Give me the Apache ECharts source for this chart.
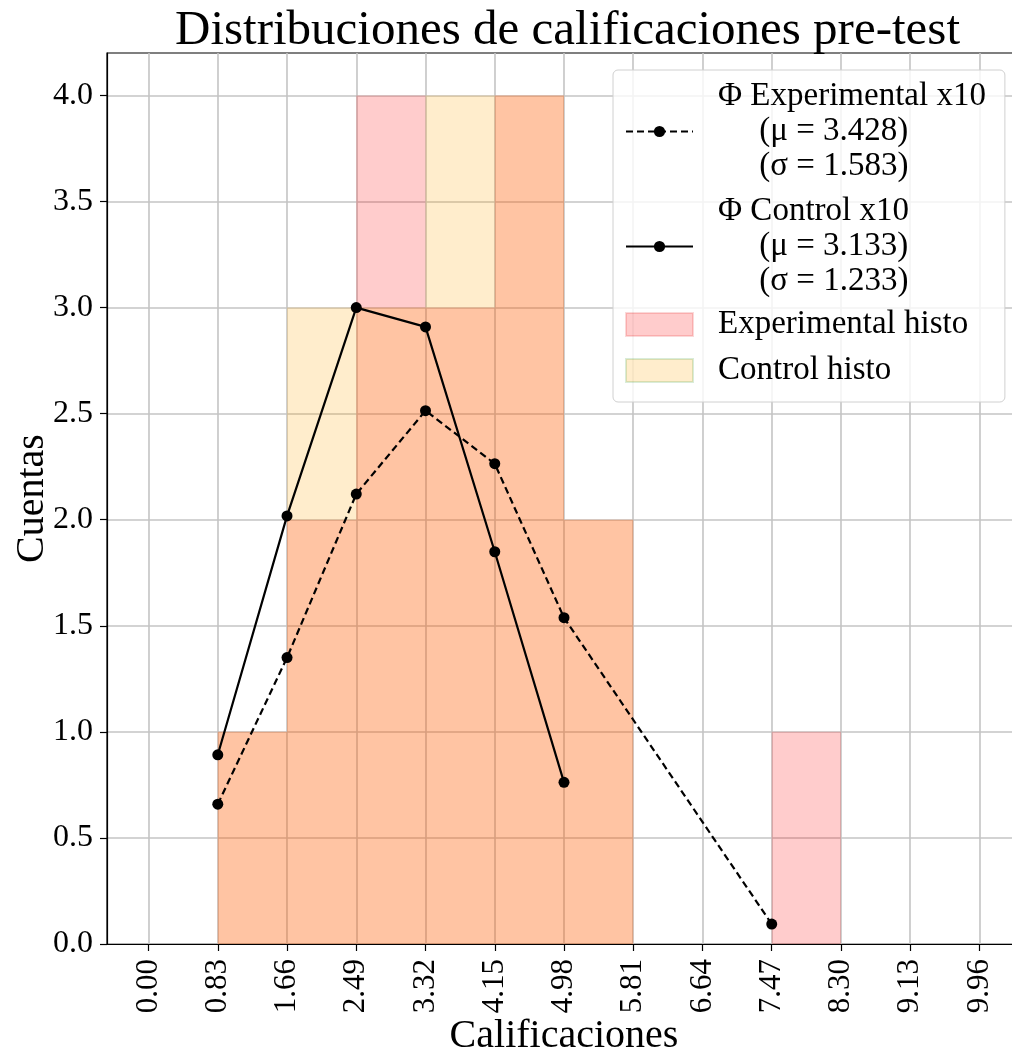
<!DOCTYPE html>
<html>
<head>
<meta charset="utf-8">
<script src="https://cdn.jsdelivr.net/npm/echarts@6/dist/echarts.min.js"></script>
<style>
html,body{margin:0;padding:0;background:#fff;}
#chart{width:1012px;height:1053px;}
</style>
</head>
<body>
<div id="chart"></div>
<script>
// ---- data ----
const titleText = 'Distribuciones de calificaciones pre-test';
const xName = 'Calificaciones';
const yName = 'Cuentas';
const xTicks = [0.00, 0.83, 1.66, 2.49, 3.32, 4.15, 4.98, 5.81, 6.64, 7.47, 8.30, 9.13, 9.96];
const yTicks = [0.0, 0.5, 1.0, 1.5, 2.0, 2.5, 3.0, 3.5, 4.0];
const binEdges = [0.83, 1.66, 2.49, 3.32, 4.15, 4.98, 5.81, 6.64, 7.47, 8.30];
const expCounts = [1, 2, 4, 3, 4, 2, 0, 0, 1];
const ctrlCounts = [1, 3, 3, 4, 4, 2, 0, 0, 0];
const expPdfX = [0.83, 1.66, 2.49, 3.32, 4.15, 4.98, 7.47];
const expPdfY = [0.659, 1.350, 2.121, 2.514, 2.264, 1.538, 0.094];
const ctrlPdfX = [0.83, 1.66, 2.49, 3.32, 4.15, 4.98];
const ctrlPdfY = [0.892, 2.018, 3.000, 2.909, 1.849, 0.762];
const expMu = '3.428', expSigma = '1.583';
const ctrlMu = '3.133', ctrlSigma = '1.233';
const seriesNames = ['Φ Experimental x10', 'Φ Control x10', 'Experimental histo', 'Control histo'];

// ---- build ----
const FONT = 'Liberation Serif';
function histData(counts) {
  const out = [];
  counts.forEach((c, i) => { if (c > 0) out.push([binEdges[i], binEdges[i + 1], c]); });
  return out;
}
function histSeries(name, counts, fill, stroke) {
  return {
    name: name,
    type: 'custom',
    data: histData(counts),
    encode: { x: [0, 1], y: 2 },
    itemStyle: { color: fill, borderColor: stroke, borderWidth: 1 },
    renderItem: function (params, api) {
      const p0 = api.coord([api.value(0), api.value(2)]);
      const p1 = api.coord([api.value(1), 0]);
      return {
        type: 'rect',
        shape: { x: p0[0], y: p0[1], width: p1[0] - p0[0], height: p1[1] - p0[1] },
        style: { fill: fill }
      };
    },
    z: 2
  };
}
const pair = (xs, ys) => xs.map((x, i) => [x, ys[i]]);
const legendLabel = {};
legendLabel[seriesNames[0]] = seriesNames[0] + '\n     (μ = ' + expMu + ')\n     (σ = ' + expSigma + ')';
legendLabel[seriesNames[1]] = seriesNames[1] + '\n     (μ = ' + ctrlMu + ')\n     (σ = ' + ctrlSigma + ')';

const chart = echarts.init(document.getElementById('chart'), null, { renderer: 'canvas' });
const option = {
  backgroundColor: '#ffffff',
  animation: false,
  textStyle: { fontFamily: FONT },
  title: {
    text: titleText,
    left: 170, top: 2,
    textStyle: { fontFamily: FONT, fontSize: 49, fontWeight: 'normal', color: '#000' }
  },
  grid: {
    left: 107, top: 53, width: 914, height: 891,
    outerBoundsMode: 'none', containLabel: false,
    show: true, borderColor: '#000', borderWidth: 1.2, backgroundColor: 'transparent'
  },
  xAxis: {
    type: 'value', min: -0.498, max: 10.458,
    name: xName, nameLocation: 'middle', nameGap: 72, nameMoveOverlap: false,
    nameTextStyle: { fontFamily: FONT, fontSize: 40, color: '#000' },
    axisLine: { show: true, onZero: false, lineStyle: { color: '#000', width: 1.2 } },
    axisTick: { show: true, length: 7, lineStyle: { color: '#000', width: 1.2 }, customValues: xTicks },
    axisLabel: { customValues: xTicks, rotate: 90, margin: 15, fontFamily: FONT, fontSize: 31, color: '#000',
      formatter: v => Number(v).toFixed(2) },
    splitLine: { show: true, lineStyle: { color: '#c4c4c4', width: 1.6 } }
  },
  yAxis: {
    type: 'value', min: 0, max: 4.2,
    name: yName, nameLocation: 'middle', nameGap: 55, nameRotate: 90, nameMoveOverlap: false,
    nameTextStyle: { fontFamily: FONT, fontSize: 40, color: '#000' },
    axisLine: { show: true, onZero: false, lineStyle: { color: '#000', width: 1.2 } },
    axisTick: { show: true, length: 7, lineStyle: { color: '#000', width: 1.2 }, customValues: yTicks },
    axisLabel: { customValues: yTicks, margin: 14, fontFamily: FONT, fontSize: 32, color: '#000',
      formatter: v => Number(v).toFixed(1) },
    splitLine: { show: true, lineStyle: { color: '#c4c4c4', width: 1.6 } }
  },
  legend: [
    {
      data: [seriesNames[0], seriesNames[1]],
      orient: 'vertical', left: 613, top: 70,
      padding: [9, 19, 103, 12], itemGap: 10,
      itemWidth: 67, itemHeight: 14,
      backgroundColor: 'rgba(255,255,255,0.8)', borderColor: '#d0d0d0', borderWidth: 1, borderRadius: 5,
      formatter: n => legendLabel[n],
      textStyle: { fontFamily: FONT, fontSize: 33, lineHeight: 35, color: '#000', padding: [0, 0, 0, 20] },
      z: 10
    },
    {
      data: [seriesNames[2], seriesNames[3]],
      orient: 'vertical', left: 625, top: 307,
      padding: 0, itemGap: 11,
      itemWidth: 67, itemHeight: 23, icon: 'rect',
      textStyle: { fontFamily: FONT, fontSize: 33, lineHeight: 35, color: '#000', padding: [0, 0, 0, 20] },
      z: 11
    }
  ],
  series: [
    histSeries(seriesNames[2], expCounts, 'rgba(255,0,0,0.2)', 'rgba(220,0,0,0.15)'),
    histSeries(seriesNames[3], ctrlCounts, 'rgba(255,165,0,0.2)', 'rgba(0,128,0,0.15)'),
    {
      name: seriesNames[0], type: 'line', data: pair(expPdfX, expPdfY),
      symbol: 'circle', symbolSize: 11, showSymbol: true,
      lineStyle: { color: '#000', width: 2.2, type: [7, 4] },
      itemStyle: { color: '#000' }, z: 5
    },
    {
      name: seriesNames[1], type: 'line', data: pair(ctrlPdfX, ctrlPdfY),
      symbol: 'circle', symbolSize: 11, showSymbol: true,
      lineStyle: { color: '#000', width: 2.2 },
      itemStyle: { color: '#000' }, z: 5
    }
  ]
};
chart.setOption(option);
</script>
</body>
</html>
